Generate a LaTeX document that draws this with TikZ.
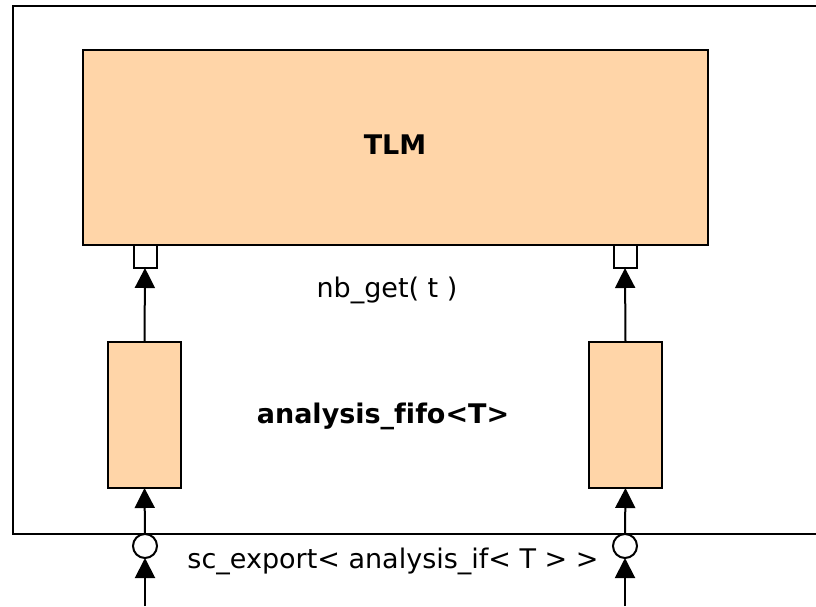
\documentclass[tikz,border=0pt]{standalone}
\usepackage{fontspec}
\setmainfont[Ligatures=NoCommon]{DejaVu Sans}
\usetikzlibrary{arrows.meta}
\definecolor{peach}{RGB}{255,213,168}
\tikzset{
  blk/.style={draw=black, line width=2pt, fill=peach, inner sep=0pt, outer sep=0pt},
  port/.style={draw=black, line width=2pt, fill=white, inner sep=0pt, outer sep=0pt, minimum width=23pt, minimum height=23pt},
  expo/.style={circle, draw=black, line width=2pt, fill=white, inner sep=0pt, outer sep=0pt, minimum size=24pt},
  conn/.style={line width=2pt, -{Triangle[width=20pt,length=20pt]}},
  lbl/.style={font=\fontsize{27}{32}\selectfont},
  blbl/.style={font=\fontsize{27}{32}\selectfont\bfseries}
}
\begin{document}
\begin{tikzpicture}[x=1pt,y=-1pt]
\useasboundingbox (0,0) rectangle (816,606);
% frame (open on the right)
\draw[line width=2pt] (816,6) -- (13,6) -- (13,534) -- (816,534);
% TLM
\node[blk, minimum width=625pt, minimum height=195pt, anchor=north west] (tlm) at (83,50) {};
\node[blbl] (tlmlbl) at (395,145) {TLM};
% ports
\node[port, anchor=north] (pl) at (145,245) {};
\node[port, anchor=north] (pr) at (625,245) {};
% fifos
\node[blk, minimum width=73pt, minimum height=146pt, anchor=north west] (fl) at (108,342) {};
\node[blk, minimum width=73pt, minimum height=146pt, anchor=north west] (fr) at (589,342) {};
% exports
\node[expo] (el) at (145,546) {};
\node[expo] (er) at (625,546) {};
\coordinate (bl) at (145,606);
\coordinate (br) at (625,606);
% connectors
\draw[conn] (fl.north) -- (pl.south);
\draw[conn] (fr.north) -- (pr.south);
\draw[conn] (el.north) -- (fl.south);
\draw[conn] (er.north) -- (fr.south);
\draw[conn] (bl) -- (el.south);
\draw[conn] (br) -- (er.south);
% labels
\node[lbl] (nb) at (387,290) {nb\_get( t )};
\node[blbl] (af) at (383,416) {analysis\_fifo<T>};
\node[lbl] (sc) at (393,561) {sc\_export< analysis\_if< T > >};
\end{tikzpicture}
\end{document}
